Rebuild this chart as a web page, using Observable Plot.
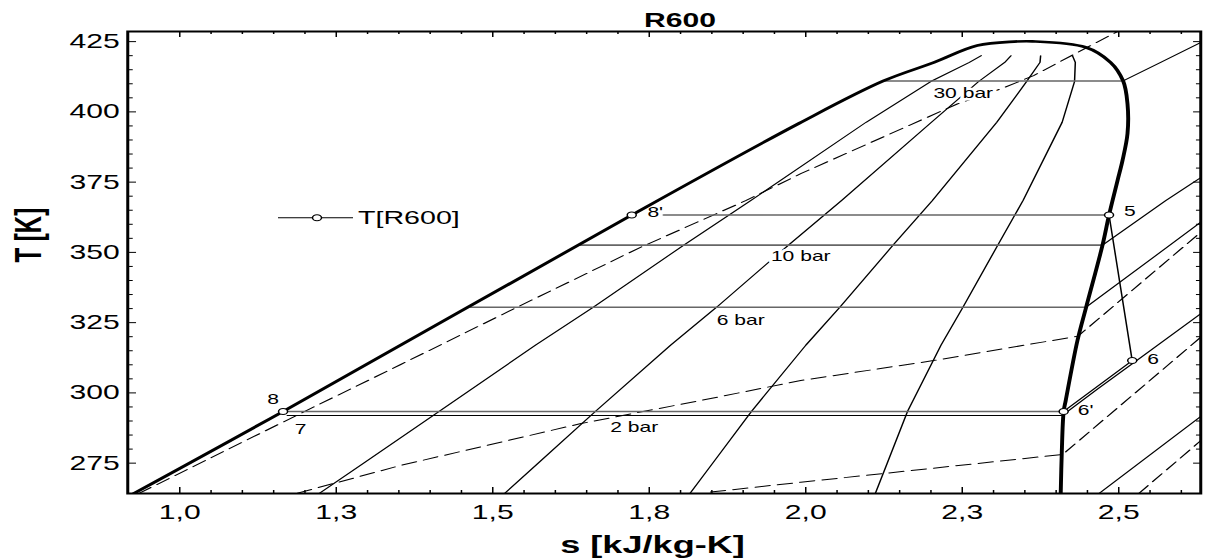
<!DOCTYPE html>
<html><head><meta charset="utf-8">
<script src="https://cdn.jsdelivr.net/npm/d3@7"></script>
<script src="https://cdn.jsdelivr.net/npm/@observablehq/plot@0.6"></script>
<style>body{margin:0;background:#fff;} #chart svg{display:block}</style>
</head><body><div id="chart"></div>
<script>
// ---------- texts ----------
const title = "R600";
const xLabel = "s [kJ/kg-K]";
const yLabel = "T [K]";
const legendLabel = "T[R600]";

// ---------- axes ----------
const xTicks = [1.0, 1.25, 1.5, 1.75, 2.0, 2.25, 2.5];
const xTickLabels = ["1,0", "1,3", "1,5", "1,8", "2,0", "2,3", "2,5"];
const xMinor = [1.05,1.1,1.15,1.2,1.3,1.35,1.4,1.45,1.55,1.6,1.65,1.7,1.8,1.85,1.9,1.95,2.05,2.1,2.15,2.2,2.3,2.35,2.4,2.45,2.55,2.6];
const yTicks = [275, 300, 325, 350, 375, 400, 425];
const yTickLabels = ["275", "300", "325", "350", "375", "400", "425"];
const yMinor = [280,285,290,295,305,310,315,320,330,335,340,345,355,360,365,370,380,385,390,395,405,410,415,420];

// ---------- saturation dome ----------
const satS = [0.9265,1.165,1.722,1.99,2.124,2.205,2.274,2.333,2.362,2.447,2.487,2.507,2.514,2.514,2.506,2.498,2.4845,2.4741,2.4479,2.434,2.4153,2.412,2.409,2.4073];
const satT = [264.2,293.4,363.3,396.0,411.0,417.6,423.6,425.0,425.1,423.0,417.6,411.0,402.8,392.3,382.7,375.5,363.3,352.6,330.5,318.6,297.3,293.4,278.8,264.2];

// ---------- constant-quality lines (two-phase) ----------
const qualityT = [264.2,275,293.4,317,330.5,352.6,368.4,396.3,410.8,417.6,420];
const q20S = [1.2227,1.2938,1.4144,1.5683,1.6608,1.8052,1.912,2.0964,2.1996,2.2614,2.2804];
const q40S = [1.5188,1.5726,1.6638,1.7842,1.8576,1.9724,2.057,2.2008,2.2762,2.3178,2.3278];
const q60S = [1.815,1.8514,1.9132,2.0002,2.0544,2.1396,2.202,2.3052,2.3528,2.3742,2.3752];
const q80S = [2.1111,2.1302,2.1626,2.2161,2.2512,2.3068,2.347,2.4096,2.4294,2.4306,2.426];

// ---------- dashed lines ----------
const iso1S = [0.9345,1.193,1.353,1.539,1.736,1.904,1.992,2.242,2.312,2.364,2.450,2.498];
const iso1T = [264.2,292.7,310.1,330.5,351.8,368.4,378.0,402.8,408.2,412.9,423.0,428.6];
const iso2S = [1.188,1.353,1.641,1.832,1.992,2.204,2.435,2.628];
const iso2T = [264.3,274.2,289.1,297.3,304.4,311.5,320.2,356.6];
const iso3S = [1.848,1.992,2.4105,2.631];
const iso3T = [264.7,268.2,278.1,319.8];
const iso4S = [2.532,2.631];
const iso4T = [264.2,283.0];

// ---------- isobars ----------
const domeIsobarT = [411.0, 352.6, 330.5];
const domeIsobarS1 = [2.124, 1.6396, 1.465];
const domeIsobarS2 = [2.507, 2.4741, 2.4479];
const p30S = [2.507,2.567,2.631];        const p30T = [411.0,417.6,424.7];
const p10S = [2.4741,2.575,2.620,2.631]; const p10T = [352.6,368.4,375.0,376.6];
const p6S  = [2.4479,2.631];             const p6T  = [330.5,360.7];
const p2S  = [1.1717,2.410,2.467,2.523,2.633]; const p2T = [292.0,292.0,301.5,310.6,328.5];
const p1S  = [2.4685,2.633];             const p1T  = [264.2,292.0];
const isobarLabels = ["30 bar", "10 bar", "6 bar", "2 bar"];
const isobarLabelS = [2.2516, 1.992, 1.896, 1.726];
const isobarLabelT = [406.7, 348.7, 325.9, 287.8];

// ---------- cycle ----------
const cycleLabels = ["8'", "5", "6", "6'", "8"];
const cycleS = [1.722, 2.4845, 2.5215, 2.412, 1.165];
const cycleT = [363.3, 363.3, 311.5, 293.4, 293.4];
const state7S = 1.1717, state7T = 292.0;
const heatS = [1.773, 2.4845]; const heatT = [363.3, 363.3];     // 8' -> 5
const condS = [1.165, 2.412];  const condT = [293.4, 293.4];     // 8 -> 6'
const expS = [2.4845, 2.5215, 2.412]; const expT = [363.3, 311.5, 293.4]; // 5 -> 6 -> 6'

// ---------- layout (drawn at 800 wide, stretched to 1205) ----------
const W = 800, H = 560, K = 1205 / W;
const mL = 127 / K, mR = 5 / K, mT = 31, mB = 67;
const fw = W - mL - mR, fh = H - mT - mB;

const rows = (S, T, key) => S.map((s, i) => ({s, T: T[i], key}));
const quality = [...rows(q20S, qualityT, "q20"), ...rows(q40S, qualityT, "q40"), ...rows(q60S, qualityT, "q60"), ...rows(q80S, qualityT, "q80")];
const dashed = [...rows(iso1S, iso1T, "v1"), ...rows(iso2S, iso2T, "v2"), ...rows(iso3S, iso3T, "v3"), ...rows(iso4S, iso4T, "v4")];
const superIsobars = [...rows(p30S, p30T, "p30"), ...rows(p10S, p10T, "p10"), ...rows(p6S, p6T, "p6"), ...rows(p2S, p2T, "p2"), ...rows(p1S, p1T, "p1")];
const grayLines = [
  ...domeIsobarT.flatMap((t, i) => [{s: domeIsobarS1[i], T: t, key: "d" + i}, {s: domeIsobarS2[i], T: t, key: "d" + i}]),
  ...rows(heatS, heatT, "heat"), ...rows(condS, condT, "cond")
];
const sat = rows(satS, satT, "sat");
const expansion = rows(expS, expT, "exp");
const states = cycleLabels.map((l, i) => ({label: l, s: cycleS[i], T: cycleT[i]}));
const labelsAll = [...states, {label: "7", s: state7S, T: state7T}];
// label placement styles (kept apart from the data)
const labelStyle = {"8'": {a: "start", dx: 10.4, dy: -2.5}, "5": {a: "start", dx: 10, dy: -3},
  "6": {a: "start", dx: 10, dy: -1.5}, "6'": {a: "start", dx: 9.3, dy: -1},
  "8": {a: "middle", dx: -6.6, dy: -11.5}, "7": {a: "middle", dx: 8.8, dy: 14}};
const isoLab = isobarLabels.map((l, i) => ({label: l, s: isobarLabelS[i], T: isobarLabelT[i]}));

const font = "'Liberation Sans', Arial, Helvetica, sans-serif";

const chart = Plot.plot({
  width: W, height: H,
  marginLeft: mL, marginRight: mR, marginTop: mT, marginBottom: mB,
  style: {fontFamily: font, background: "white", color: "black"},
  x: {domain: [0.9169, 2.631], axis: null},
  y: {domain: [264.2, 428.6], axis: null},
  marks: [
    Plot.line(quality, {x: "s", y: "T", z: "key", stroke: "black", strokeWidth: 1, clip: true}),
    Plot.line(dashed, {x: "s", y: "T", z: "key", stroke: "black", strokeWidth: 1, strokeDasharray: "10,5", clip: true}),
    Plot.line(superIsobars, {x: "s", y: "T", z: "key", stroke: "black", strokeWidth: 1, clip: true}),
    Plot.line(grayLines, {x: "s", y: "T", z: "key", stroke: "#666666", strokeWidth: 1.6, clip: true}),
    Plot.text(isoLab, {x: "s", y: "T", text: "label", fontSize: 14, fill: "black", stroke: "white", strokeWidth: 5}),
    Plot.line(sat, {x: "s", y: "T", stroke: "black", strokeWidth: 2.6, curve: "catmull-rom", clip: true}),
    Plot.line(expansion, {x: "s", y: "T", stroke: "black", strokeWidth: 1}),
    Plot.dot(states, {x: "s", y: "T", r: 3, fill: "white", stroke: "black", strokeWidth: 1}),
    ...labelsAll.map(d => Plot.text([d], {
      x: "s", y: "T", text: "label", fontSize: 14,
      textAnchor: labelStyle[d.label].a, dx: labelStyle[d.label].dx, dy: labelStyle[d.label].dy
    })),
    Plot.frame({stroke: "black", strokeWidth: 2}),
    Plot.tickX(xTicks, {x: d => d, insetTop: fh - 6, strokeWidth: 1}),
    Plot.tickX(xMinor, {x: d => d, insetTop: fh - 3, strokeWidth: 1}),
    Plot.tickX(xTicks, {x: d => d, insetBottom: fh - 6, strokeWidth: 1}),
    Plot.tickX(xMinor, {x: d => d, insetBottom: fh - 3, strokeWidth: 1}),
    Plot.tickY(yTicks, {y: d => d, insetRight: fw - 6, strokeWidth: 1}),
    Plot.tickY(yMinor, {y: d => d, insetRight: fw - 3.8, strokeWidth: 1}),
    Plot.tickY(yTicks, {y: d => d, insetLeft: fw - 4.6, strokeWidth: 1}),
    Plot.tickY(yMinor, {y: d => d, insetLeft: fw - 2.7, strokeWidth: 1}),
    Plot.text(xTicks, {x: d => d, text: (d, i) => xTickLabels[i], frameAnchor: "bottom", lineAnchor: "middle", dy: 19.5, fontSize: 20}),
    Plot.text(yTicks, {y: d => d, text: (d, i) => yTickLabels[i], frameAnchor: "left", lineAnchor: "middle", dx: -5.3, textAnchor: "end", fontSize: 20}),
    Plot.text([title], {frameAnchor: "top", lineAnchor: "middle", dx: 10.4, dy: -11, fontSize: 20, fontWeight: "bold"}),
    Plot.text([xLabel], {frameAnchor: "bottom", lineAnchor: "bottom", dx: -7.8, dy: 59.5, fontSize: 24, fontWeight: "bold"}),
    Plot.text([yLabel], {frameAnchor: "left", lineAnchor: "middle", dx: -65.5, rotate: -90, fontSize: 24, fontWeight: "bold"})
  ]
});

chart.setAttribute("viewBox", `0 0 ${W} ${H}`);
chart.setAttribute("preserveAspectRatio", "none");
chart.setAttribute("width", 1205);
chart.setAttribute("height", 560);
chart.style.width = "1205px";
chart.style.height = "560px";
chart.style.maxWidth = "none";

// legend sample
const lg = d3.select(chart).append("g");
lg.append("line").attr("x1", 278 / K).attr("x2", 353 / K).attr("y1", 217.7).attr("y2", 217.7).attr("stroke", "black").attr("stroke-width", 1);
lg.append("circle").attr("cx", 317 / K).attr("cy", 217.7).attr("r", 3).attr("fill", "white").attr("stroke", "black");
lg.append("text").attr("x", 358 / K).attr("y", 217.7).attr("dy", "0.35em").attr("text-anchor", "start")
  .attr("font-size", 19).attr("font-family", font).attr("fill", "black").text(legendLabel);

document.getElementById("chart").append(chart);
</script>
</body></html>
